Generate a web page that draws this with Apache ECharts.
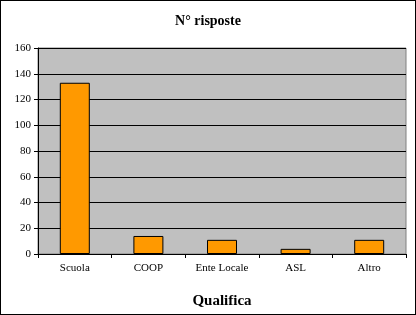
<!DOCTYPE html>
<html><head><meta charset="utf-8">
<script src="https://cdn.jsdelivr.net/npm/echarts@6/dist/echarts.min.js"></script>
<style>html,body{margin:0;padding:0;background:#fff}#c{width:416px;height:315px;box-sizing:border-box;border:1px solid #000}</style>
</head><body><div id="c"></div>
<script>
const categories = ["Scuola", "COOP", "Ente Locale", "ASL", "Altro"];
const values = [133, 14, 11, 4, 11];
const yTicks = [0, 20, 40, 60, 80, 100, 120, 140, 160];
const titleText = "N° risposte";
const xAxisName = "Qualifica";

const chart = echarts.init(document.getElementById('c'), null, {renderer: 'canvas'});
const serif = '"Liberation Serif", "Times New Roman", serif';
chart.setOption({
  animation: false,
  backgroundColor: '#fff',
  title: {text: titleText, left: 'center', top: 8,
    textStyle: {fontFamily: serif, fontSize: 14, fontWeight: 'bold', color: '#000'}},
  grid: {left: 37, right: 9, top: 47, bottom: 58, show: true, backgroundColor: '#C0C0C0', borderColor: '#808080', borderWidth: 1},
  xAxis: {type: 'category', data: categories,
    name: xAxisName, nameLocation: 'middle', nameGap: 40,
    nameTextStyle: {fontFamily: serif, fontSize: 15, fontWeight: 'bold', color: '#000'},
    axisLine: {lineStyle: {color: '#000'}},
    axisTick: {show: true, length: 4, lineStyle: {color: '#000'}},
    axisLabel: {fontFamily: serif, fontSize: 11, color: '#000', margin: 9}},
  yAxis: {type: 'value', min: yTicks[0], max: yTicks[yTicks.length-1], interval: 20,
    axisLine: {show: true, lineStyle: {color: '#000'}},
    axisTick: {show: true, length: 4, lineStyle: {color: '#000'}},
    axisLabel: {fontFamily: serif, fontSize: 11, color: '#000', margin: 7},
    splitLine: {lineStyle: {color: '#000', width: 1}}},
  series: [{type: 'bar', data: values, barWidth: 30,
    itemStyle: {color: '#FF9900', borderColor: '#000', borderWidth: 1}}]
});
</script></body></html>
